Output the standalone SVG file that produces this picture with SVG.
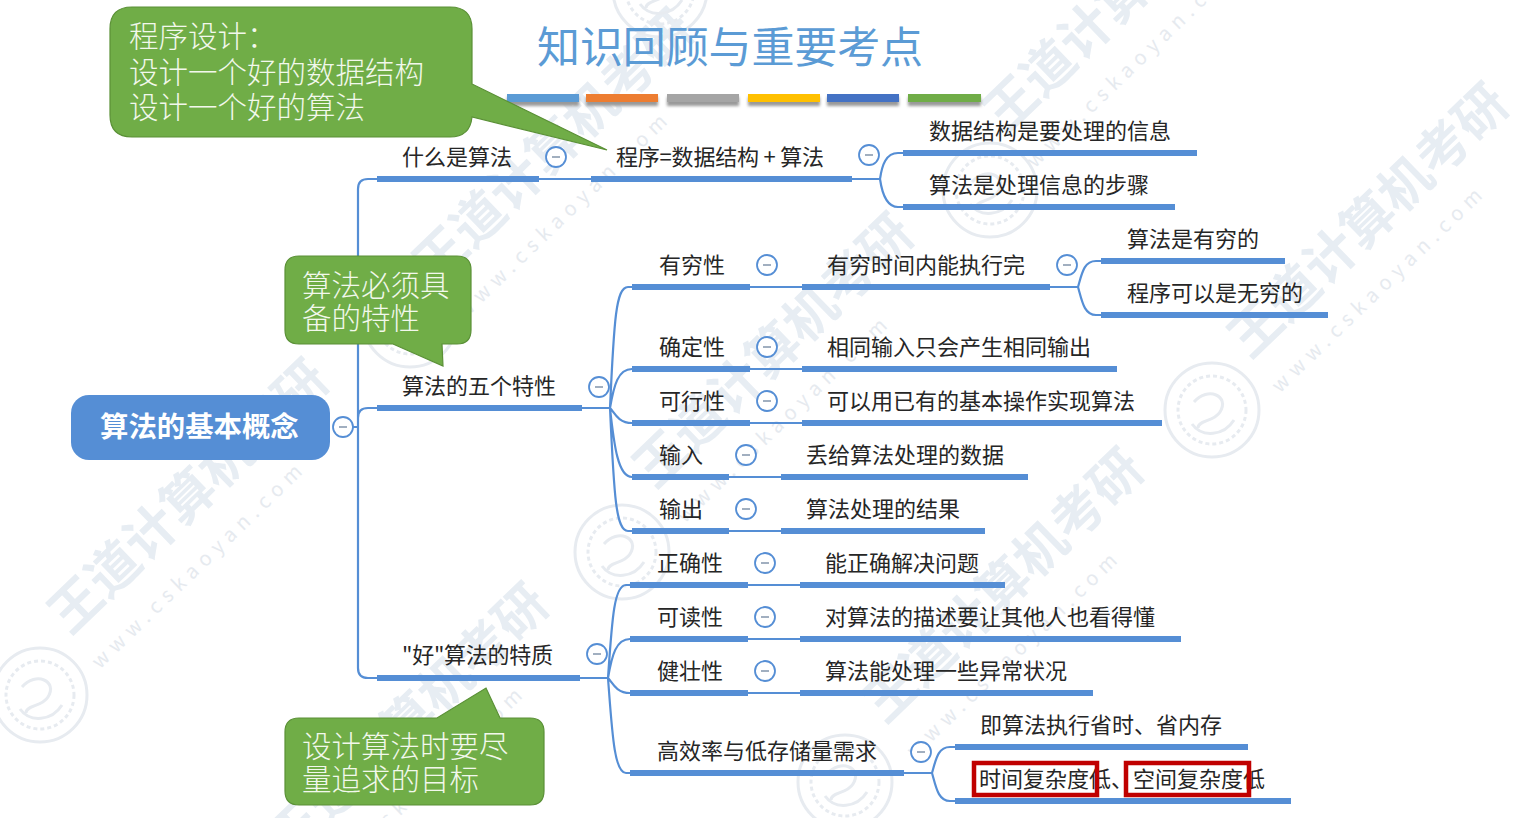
<svg xmlns="http://www.w3.org/2000/svg" width="1524" height="818" viewBox="0 0 1524 818">
<style>
text{font-family:"Noto Sans CJK SC","Noto Sans",sans-serif}
.t{font-size:22px;fill:#262626}
.c{font-size:29.5px;fill:#f2f8ec;font-weight:300}
.bar{stroke:#558ed5;stroke-width:6;fill:none}
.thin{stroke:#558ed5;stroke-width:2.2;fill:none}
.col{fill:#fff;stroke:#558ed5;stroke-width:1.8}
.minus{stroke:#8a9bb0;stroke-width:1.6}
.call{fill:#70ad47;stroke:#5a9036;stroke-width:1.2}
.wm1{font-size:52px;font-weight:700;fill:#e7edf3}
.wm2{font-size:20px;fill:#e6eaef}
.seal{fill:none;stroke:#e7ebf0;stroke-width:3}
.red{fill:none;stroke:#c00000;stroke-width:4.5}
</style>
<defs>
<filter id="sh" x="-10%" y="-60%" width="120%" height="260%"><feGaussianBlur stdDeviation="1.5"/></filter>
<g id="wm">
<text class="wm1" x="0" y="0" transform="rotate(-44)">王道计算机考研</text>
<text class="wm2" x="-2" y="45" transform="rotate(-44)" textLength="283">www.cskaoyan.com</text>
</g>
<g id="seal">
<circle class="seal" r="47"/><circle class="seal" r="34" stroke-dasharray="4 3"/>
<path class="seal" d="M-18 -8C-4 -24 18 -14 8 2C2 12 -14 10 -14 18M-20 14C-10 28 12 26 22 10" stroke-width="6"/>
</g>
</defs>
<rect width="1524" height="818" fill="#fff"/>
<g id="watermark">
<use href="#wm" x="70" y="636"/>
<use href="#wm" x="435" y="286"/>
<use href="#wm" x="655" y="490"/>
<use href="#wm" x="885" y="725"/>
<use href="#wm" x="1005" y="135"/>
<use href="#wm" x="1250" y="360"/>
<use href="#wm" x="290" y="860"/>
<use href="#seal" x="40" y="695"/>
<use href="#seal" x="410" y="320"/>
<use href="#seal" x="622" y="552"/>
<use href="#seal" x="990" y="190"/>
<use href="#seal" x="1212" y="410"/>
<use href="#seal" x="845" y="782"/>
<use href="#seal" x="660" y="-10"/>
</g>
<text id="title" x="537" y="63" font-size="43" fill="#5b9bd5" textLength="386">知识回顾与重要考点</text>
<g id="title-bars">
<g filter="url(#sh)" fill="#999"><rect x="507" y="97" width="72" height="9"/><rect x="586" y="97" width="72" height="9"/><rect x="667" y="97" width="72" height="9"/><rect x="748" y="97" width="72" height="9"/><rect x="827" y="97" width="72" height="9"/><rect x="908" y="97" width="73" height="9"/></g>
<rect x="507" y="94" width="72" height="8" fill="#5b9bd5"/>
<rect x="586" y="94" width="72" height="8" fill="#ed7d31"/>
<rect x="667" y="94" width="72" height="8" fill="#a5a5a5"/>
<rect x="748" y="94" width="72" height="8" fill="#ffc000"/>
<rect x="827" y="94" width="72" height="8" fill="#4472c4"/>
<rect x="908" y="94" width="73" height="8" fill="#70ad47"/>
</g>
<g id="connectors">
<path class="thin" d="M352 427H358M377 179H368Q358 179 358 189V668Q358 678 368 678H377M358 427V418Q358 408 368 408H377"/>
<path class="thin" d="M539 179H591M852 179H880M903 153H898C886 153 882 165 880 179C882 193 886 207 898 207H903"/>
<path class="thin" d="M582 408H610M632 287H628C616 287 614 320 610 408C614 496 616 531 628 531H632M632 369C618 369 614 385 610 408C614 412 618 423 632 423M632 477C618 477 614 445 610 408"/>
<path class="thin" d="M750 287H802M1050 287H1078M1101 261H1096C1084 261 1082 273 1078 287C1082 301 1084 315 1096 315H1101M750 369H802M750 423H802M729 477H781M729 531H781"/>
<path class="thin" d="M580 678H608M630 585H626C614 585 612 620 608 678C612 730 614 773 626 773H630M630 639C616 639 612 655 608 678C612 682 616 693 630 693"/>
<path class="thin" d="M748 585H800M748 639H800M748 693H800M904 773H932M955 747H950C938 747 936 759 932 773C936 787 938 801 950 801H955"/>
<path class="bar" d="M377 179H539M591 179H852M903 153H1197M903 207H1175M377 408H582M632 287H750M802 287H1050M1101 261H1285M1101 315H1328M632 369H750M802 369H1117M632 423H750M802 423H1162M632 477H729M781 477H1028M632 531H729M781 531H985M377 678H580M630 585H748M800 585H1005M630 639H748M800 639H1181M630 693H748M800 693H1093M630 773H904M955 747H1248M955 801H1291"/>
</g>
<g id="root"><rect x="71" y="395" width="259" height="65" rx="18" fill="#558ed5"/><text x="100" y="437" font-size="28.4px" font-weight="700" fill="#fff">算法的基本概念</text></g>
<g id="n1"><text class="t" x="402" y="165">什么是算法</text></g>
<g id="n2"><text class="t" x="616" y="165" textLength="208">程序=数据结构 + 算法</text></g>
<g id="n3"><text class="t" x="929" y="139">数据结构是要处理的信息</text></g>
<g id="n4"><text class="t" x="929" y="193">算法是处理信息的步骤</text></g>
<g id="n5"><text class="t" x="402" y="394">算法的五个特性</text></g>
<g id="n6"><text class="t" x="659" y="273">有穷性</text></g>
<g id="n7"><text class="t" x="827" y="273">有穷时间内能执行完</text></g>
<g id="n8"><text class="t" x="1127" y="247">算法是有穷的</text></g>
<g id="n9"><text class="t" x="1127" y="301">程序可以是无穷的</text></g>
<g id="n10"><text class="t" x="659" y="355">确定性</text></g>
<g id="n11"><text class="t" x="827" y="355">相同输入只会产生相同输出</text></g>
<g id="n12"><text class="t" x="659" y="409">可行性</text></g>
<g id="n13"><text class="t" x="827" y="409">可以用已有的基本操作实现算法</text></g>
<g id="n14"><text class="t" x="659" y="463">输入</text></g>
<g id="n15"><text class="t" x="806" y="463">丢给算法处理的数据</text></g>
<g id="n16"><text class="t" x="659" y="517">输出</text></g>
<g id="n17"><text class="t" x="806" y="517">算法处理的结果</text></g>
<g id="n18"><text class="t" x="402" y="663" textLength="151">"好"算法的特质</text></g>
<g id="n19"><text class="t" x="657" y="571">正确性</text></g>
<g id="n20"><text class="t" x="825" y="571">能正确解决问题</text></g>
<g id="n21"><text class="t" x="657" y="625">可读性</text></g>
<g id="n22"><text class="t" x="825" y="625">对算法的描述要让其他人也看得懂</text></g>
<g id="n23"><text class="t" x="657" y="679">健壮性</text></g>
<g id="n24"><text class="t" x="825" y="679">算法能处理一些异常状况</text></g>
<g id="n25"><text class="t" x="657" y="759">高效率与低存储量需求</text></g>
<g id="n26"><text class="t" x="980" y="733">即算法执行省时、省内存</text></g>
<g id="n27"><text class="t" x="979" y="787">时间复杂度低、空间复杂度低</text><rect class="red" x="974" y="763" width="123" height="32"/><rect class="red" x="1126" y="763" width="123" height="32"/></g>
<g id="collapse">
<circle class="col" cx="343" cy="427" r="10"/><path class="minus" d="M339 427h8"/>
<circle class="col" cx="556" cy="157" r="10"/><path class="minus" d="M552 157h8"/>
<circle class="col" cx="869" cy="155" r="10"/><path class="minus" d="M865 155h8"/>
<circle class="col" cx="767" cy="265" r="10"/><path class="minus" d="M763 265h8"/>
<circle class="col" cx="1067" cy="265" r="10"/><path class="minus" d="M1063 265h8"/>
<circle class="col" cx="767" cy="347" r="10"/><path class="minus" d="M763 347h8"/>
<circle class="col" cx="767" cy="401" r="10"/><path class="minus" d="M763 401h8"/>
<circle class="col" cx="599" cy="387" r="10"/><path class="minus" d="M595 387h8"/>
<circle class="col" cx="746" cy="455" r="10"/><path class="minus" d="M742 455h8"/>
<circle class="col" cx="746" cy="509" r="10"/><path class="minus" d="M742 509h8"/>
<circle class="col" cx="765" cy="563" r="10"/><path class="minus" d="M761 563h8"/>
<circle class="col" cx="765" cy="617" r="10"/><path class="minus" d="M761 617h8"/>
<circle class="col" cx="765" cy="671" r="10"/><path class="minus" d="M761 671h8"/>
<circle class="col" cx="597" cy="654" r="10"/><path class="minus" d="M593 654h8"/>
<circle class="col" cx="921" cy="752" r="10"/><path class="minus" d="M917 752h8"/>
</g>
<g id="callout1"><path class="call" d="M132 7H450Q472 7 472 29V84L607 150L472 117Q470 137 450 137H132Q110 137 110 115V29Q110 7 132 7Z"/>
<text class="c" x="129" y="47">程序设计：</text><text class="c" x="129" y="83">设计一个好的数据结构</text><text class="c" x="129" y="118">设计一个好的算法</text></g>
<g id="callout2"><path class="call" d="M299 256H457Q471 256 471 270V330Q471 344 457 344H442L443 366L393 344H299Q285 344 285 330V270Q285 256 299 256Z"/>
<text class="c" x="302" y="296">算法必须具</text><text class="c" x="302" y="329">备的特性</text></g>
<g id="callout3"><path class="call" d="M299 718H437L486 688L500 718H530Q544 718 544 732V791Q544 805 530 805H299Q285 805 285 791V732Q285 718 299 718Z"/>
<text class="c" x="302" y="757">设计算法时要尽</text><text class="c" x="302" y="790">量追求的目标</text></g>
</svg>
